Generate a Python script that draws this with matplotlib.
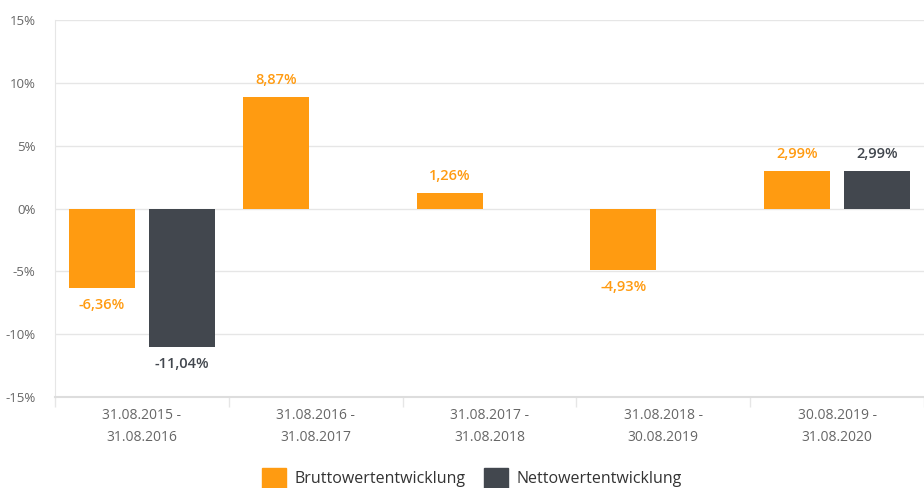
import numpy as np
import matplotlib
matplotlib.use('Agg')
import matplotlib.pyplot as plt
from matplotlib.patches import Patch

categories = ['31.08.2015 -\n31.08.2016', '31.08.2016 -\n31.08.2017', '31.08.2017 -\n31.08.2018',
              '31.08.2018 -\n30.08.2019', '30.08.2019 -\n31.08.2020']
brutto = [-6.36, 8.87, 1.26, -4.93, 2.99]
netto = [-11.04, np.nan, np.nan, np.nan, 2.99]
yticks = [-15, -10, -5, 0, 5, 10, 15]

orange = '#ff9b11'
dark = '#42474e'
grid_c = '#e6e6e6'
tick_c = '#666666'

plt.rcParams['font.family'] = ['Open Sans', 'DejaVu Sans']
narrow = ['Liberation Sans Narrow', 'Open Sans', 'DejaVu Sans']

fig = plt.figure(figsize=(9.24, 4.88), dpi=100)
ax = fig.add_axes([55/924, 91/488, 869/924, 377/488])

x = np.arange(len(categories))
w = 0.38
off = 0.23
ax.bar(x - off, brutto, w, color=orange, zorder=3)
ax.bar(x + off, netto, w, color=dark, zorder=3)

def fmt(v):
    return '{:.2f}%'.format(v).replace('.', ',')

for xi, v in zip(x, brutto):
    if np.isnan(v):
        continue
    ax.annotate(fmt(v), (xi - off, v), xytext=(0, 12 if v > 0 else -12),
                textcoords='offset points', ha='center', va='center',
                color=orange, fontsize=10.5, fontweight='semibold')
for xi, v in zip(x, netto):
    if np.isnan(v):
        continue
    ax.annotate(fmt(v), (xi + off, v), xytext=(0, 12 if v > 0 else -12),
                textcoords='offset points', ha='center', va='center',
                color=dark, fontsize=10.5, fontweight='semibold')

ax.set_ylim(-15, 15)
ax.set_xlim(-0.5, -0.5 + 869/176.8)
ax.set_yticks(yticks)
ax.set_yticklabels(['{}%'.format(t) for t in yticks], family=narrow, fontsize=9.5, color=tick_c)
ax.yaxis.grid(True, color=grid_c, lw=1, zorder=0)
ax.tick_params(axis='y', length=0, pad=14)

ax.set_xticks(x)
ax.set_xticklabels(categories, family=narrow, fontsize=10, color=tick_c, linespacing=1.6)
ax.tick_params(axis='x', length=0, pad=8)
ax.set_xticks(np.arange(len(categories) + 1) - 0.5, minor=True)
ax.tick_params(axis='x', which='minor', length=7, color=grid_c, width=1)

for s in ['top', 'right']:
    ax.spines[s].set_visible(False)
ax.spines['left'].set_color(grid_c)
ax.spines['bottom'].set_color('#dddddd')
ax.spines['bottom'].set_linewidth(1.5)

handles = [Patch(color=orange, label='Bruttowertentwicklung'),
           Patch(color=dark, label='Nettowertentwicklung')]
fig.legend(handles=handles, loc='center', bbox_to_anchor=(472/924, 1 - 478/488), ncol=2,
           frameon=False, fontsize=11.5, handlelength=1.5, handleheight=1.5,
           handletextpad=0.5, columnspacing=1.2, labelcolor='#333333')

plt.savefig('out.png', dpi=100)
